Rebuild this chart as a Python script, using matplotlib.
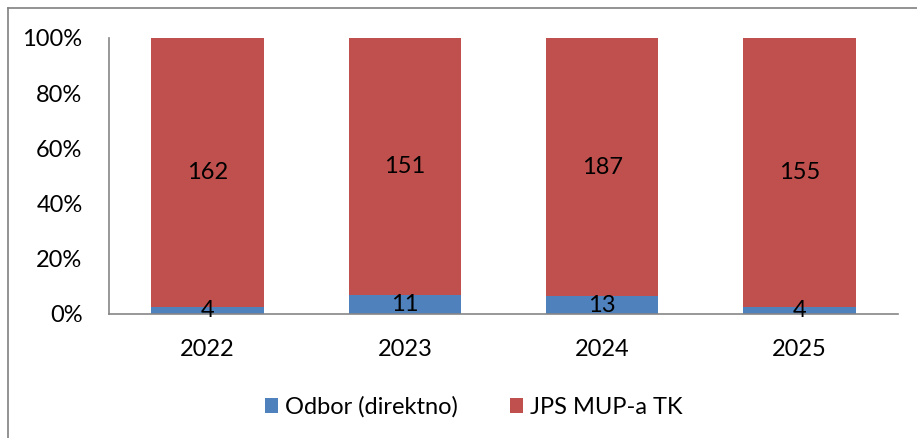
import matplotlib
matplotlib.use("Agg")
import matplotlib.pyplot as plt
from matplotlib.lines import Line2D
import numpy as np

years = ["2022", "2023", "2024", "2025"]
odbor = [4, 11, 13, 4]
jps = [162, 151, 187, 155]
series_names = ["Odbor (direktno)", "JPS MUP-a TK"]
colors = ["#4F81BD", "#C0504D"]

plt.rcParams['font.family'] = ['Lato', 'DejaVu Sans']
FS = 17

fig = plt.figure(figsize=(9.17, 4.38), dpi=100)
ax = fig.add_axes([109/917, 1 - 314/438, (898-109)/917, (314-38)/438])

odbor_a = np.array(odbor, dtype=float)
jps_a = np.array(jps, dtype=float)
tot = odbor_a + jps_a
p1 = odbor_a / tot
p2 = jps_a / tot
x = np.arange(len(years))
w = 0.57
b1 = ax.bar(x, p1, w, color=colors[0], label=series_names[0])
b2 = ax.bar(x, p2, w, bottom=p1, color=colors[1], label=series_names[1])

for i in range(len(years)):
    ax.text(x[i], p1[i] / 2, str(odbor[i]), ha='center', va='center', fontsize=FS, color='black')
    ax.text(x[i], p1[i] + p2[i] / 2, str(jps[i]), ha='center', va='center', fontsize=FS, color='black')

ax.set_xlim(-0.5, len(years) - 0.5)
ax.set_ylim(0, 1)
ax.set_yticks(np.arange(0, 1.01, 0.2))
ax.set_yticklabels([f"{int(round(v*100))}%" for v in np.arange(0, 1.01, 0.2)])
ax.set_xticks(x)
ax.set_xticklabels(years)
ax.tick_params(axis='y', length=0, pad=19, labelsize=FS)
ax.tick_params(axis='x', length=0, pad=18, labelsize=FS)
for s in ['top', 'right']:
    ax.spines[s].set_visible(False)
for s in ['left', 'bottom']:
    ax.spines[s].set_color('#868686')
    ax.spines[s].set_linewidth(1.2)

fig.legend(handles=[b1, b2], labels=series_names, loc='center', bbox_to_anchor=(474/917, 1 - 407/438),
           ncol=2, frameon=False, fontsize=FS, handlelength=0.55, handleheight=0.55,
           columnspacing=2.2, handletextpad=0.3)

# outer frame (top and left visible)
fig.add_artist(Line2D([8/917, 1], [1 - 8/438, 1 - 8/438], color='#808080', lw=1.2, transform=fig.transFigure))
fig.add_artist(Line2D([8/917, 8/917], [0, 1 - 8/438], color='#808080', lw=1.2, transform=fig.transFigure))

fig.savefig("out.png", dpi=100)
